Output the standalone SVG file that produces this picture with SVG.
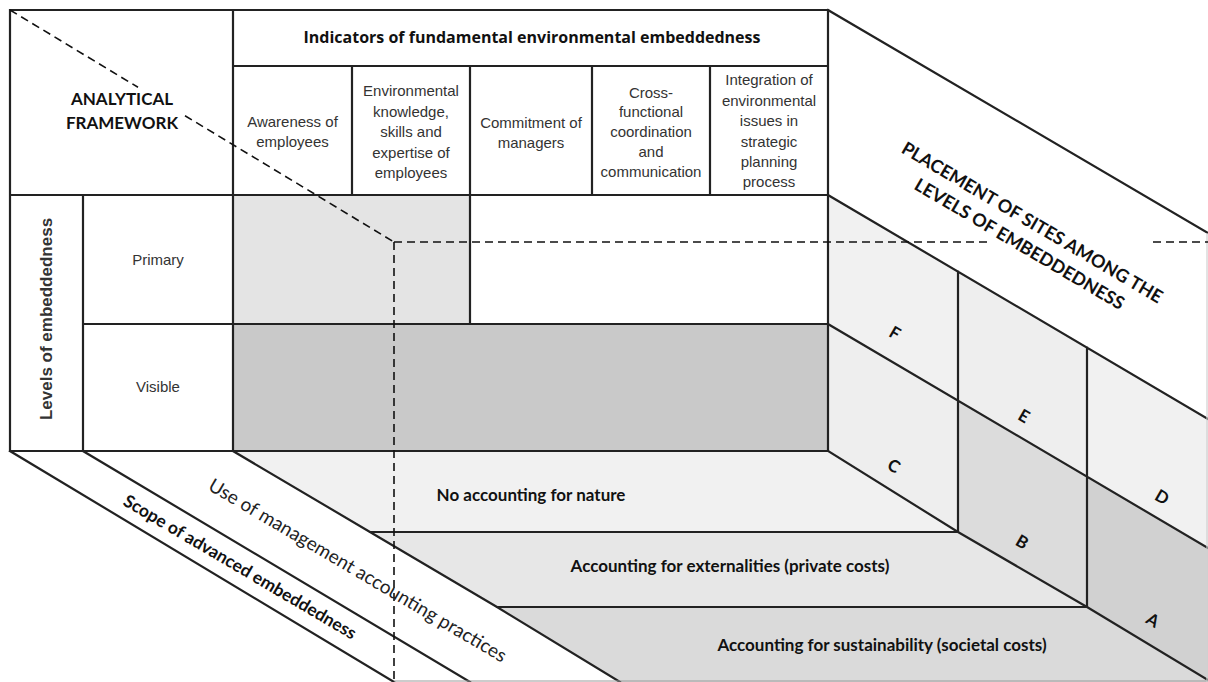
<svg xmlns="http://www.w3.org/2000/svg" width="1208" height="682" viewBox="0 0 1208 682">
<style>
.ln{stroke:#222;stroke-width:2.2;fill:none;stroke-linecap:square;stroke-linejoin:miter}
.dl{stroke:#111;stroke-width:1.6;fill:none;stroke-dasharray:8 5}
.ar{font-family:"Liberation Sans",Arial,sans-serif;font-size:15px;fill:#333;text-anchor:middle}
.cb{font-family:Lato,"Open Sans",sans-serif;font-weight:bold;fill:#111;text-anchor:middle}
.ob{font-family:"Open Sans",Lato,sans-serif;font-weight:bold;fill:#111;text-anchor:middle}
.cr{font-family:Lato,"Open Sans",sans-serif;fill:#222;text-anchor:middle}
.lt{font-family:Lato,"Open Sans",sans-serif;font-weight:bold;fill:#111;text-anchor:middle;font-size:17px}
</style>
<rect width="1208" height="682" fill="#fff"/>

<g id="fills">
  <rect id="primary-shade" x="233" y="195" width="237" height="129" fill="#e4e4e4"/>
  <rect id="visible-shade" x="233" y="324" width="595" height="127" fill="#c9c9c9"/>
  <polygon id="band-no-accounting" points="233,451 828,451 958,532 370,532" fill="#f1f1f1"/>
  <polygon id="band-externalities" points="370,532 958,532 1087,607 497,607" fill="#e7e7e7"/>
  <polygon id="band-sustainability" points="497,607 1087,607 1208,680 1208,682 620,682" fill="#dadada"/>
  <polygon id="cell-F" points="828,195 958,271.6 958,400.6 828,324" fill="#f1f1f1"/>
  <polygon id="cell-E" points="958,271.6 1087,347.7 1087,476.7 958,400.6" fill="#eeeeee"/>
  <polygon id="cell-D" points="1087,347.7 1208,419 1208,548 1087,476.7" fill="#f1f1f1"/>
  <polygon id="cell-C" points="828,324 958,400.6 958,532 828,451" fill="#eeeeee"/>
  <polygon id="cell-B" points="958,400.6 1087,476.7 1087,607 958,532" fill="#dcdcdc"/>
  <polygon id="cell-A" points="1087,476.7 1208,548 1208,680 1087,607" fill="#d1d1d1"/>
</g>

<g id="connectors">
  <path class="ln" d="M10,10 H828 M233,66 H828 M10,195 H828 M83,324 H828 M10,451 H828 M10,10 V451 M83,195 V451 M233,10 V451 M352,66 V195 M470,66 V324 M592,66 V195 M710,66 V195 M828,10 V451"/>
  <path class="ln" d="M828,10 L1208,233 M828,195 L1208,419 M828,324 L1208,548 M828,451 L958,532 L1087,607 L1208,680 M958,271.6 V532 M1087,347.7 V607"/>
  <path class="ln" d="M10,451 L394,682 M83,451 L470,682 M233,451 L370,532 L497,607 L620,682 M370,532 H958 M497,607 H1087"/>
  <path d="M394,681 H1208" stroke="#999" stroke-width="1.2" fill="none"/>
  <path d="M1207,233 V682" stroke="#d0d0d0" stroke-width="1.2" fill="none"/>
  <path class="dl" d="M10,10 L138,87.3 M185,115.7 L394,242 M394,242 H990 M1153,242 H1208 M394,242 V682"/>
</g>

<g id="analytical-framework">
  <text class="cb" x="122" y="105" font-size="17">ANALYTICAL</text>
  <text class="cb" x="122" y="129" font-size="17">FRAMEWORK</text>
</g>
<g id="indicators-header">
  <text class="ob" x="532" y="43" font-size="16">Indicators of fundamental environmental embeddedness</text>
</g>
<g id="col-awareness">
  <text class="ar" x="292.5" y="127">Awareness of</text>
  <text class="ar" x="292.5" y="147">employees</text>
</g>
<g id="col-knowledge">
  <text class="ar" x="411" y="96">Environmental</text>
  <text class="ar" x="411" y="116.5">knowledge,</text>
  <text class="ar" x="411" y="137">skills and</text>
  <text class="ar" x="411" y="157.5">expertise of</text>
  <text class="ar" x="411" y="178">employees</text>
</g>
<g id="col-commitment">
  <text class="ar" x="531" y="128">Commitment of</text>
  <text class="ar" x="531" y="148">managers</text>
</g>
<g id="col-coordination">
  <text class="ar" x="651" y="97.5">Cross-</text>
  <text class="ar" x="651" y="117">functional</text>
  <text class="ar" x="651" y="137">coordination</text>
  <text class="ar" x="651" y="157">and</text>
  <text class="ar" x="651" y="176.5">communication</text>
</g>
<g id="col-integration">
  <text class="ar" x="769" y="85">Integration of</text>
  <text class="ar" x="769" y="105.5">environmental</text>
  <text class="ar" x="769" y="125.5">issues in</text>
  <text class="ar" x="769" y="146.5">strategic</text>
  <text class="ar" x="769" y="167">planning</text>
  <text class="ar" x="769" y="187">process</text>
</g>
<g id="levels-of-embeddedness">
  <text transform="translate(52,319) rotate(-90)" x="0" y="0" style="font-family:'Liberation Sans',Arial,sans-serif;font-weight:bold;font-size:17px;fill:#333;text-anchor:middle">Levels of embeddedness</text>
</g>
<g id="row-primary"><text class="ar" x="158" y="265">Primary</text></g>
<g id="row-visible"><text class="ar" x="158" y="392">Visible</text></g>

<g id="floor-no-accounting"><text class="cb" x="531" y="501" font-size="17">No accounting for nature</text></g>
<g id="floor-externalities"><text class="cb" x="730" y="572" font-size="17">Accounting for externalities (private costs)</text></g>
<g id="floor-sustainability"><text class="cb" x="882" y="651" font-size="17">Accounting for sustainability (societal costs)</text></g>

<g id="scope-label"><text class="cb" transform="translate(240,567) rotate(30.5)" x="0" y="6" font-size="17.5">Scope of advanced embeddedness</text></g>
<g id="use-label"><text class="cr" transform="translate(358,570) rotate(30.5)" x="0" y="7" font-size="19">Use of management accounting practices</text></g>

<g id="placement-label" transform="translate(1026,233) rotate(30.5)">
  <text class="cb" x="0" y="-6" font-size="18">PLACEMENT OF SITES AMONG THE</text>
  <text class="cb" x="0" y="19" font-size="18">LEVELS OF EMBEDDEDNESS</text>
</g>

<g id="site-F"><text class="lt" transform="translate(895,333) rotate(30.5)" y="6">F</text></g>
<g id="site-E"><text class="lt" transform="translate(1024,416) rotate(30.5)" y="6">E</text></g>
<g id="site-D"><text class="lt" transform="translate(1162,497) rotate(30.5)" y="6">D</text></g>
<g id="site-C"><text class="lt" transform="translate(894,466) rotate(30.5)" y="6">C</text></g>
<g id="site-B"><text class="lt" transform="translate(1022,542) rotate(30.5)" y="6">B</text></g>
<g id="site-A"><text class="lt" transform="translate(1153,620) rotate(30.5)" y="6">A</text></g>
</svg>
